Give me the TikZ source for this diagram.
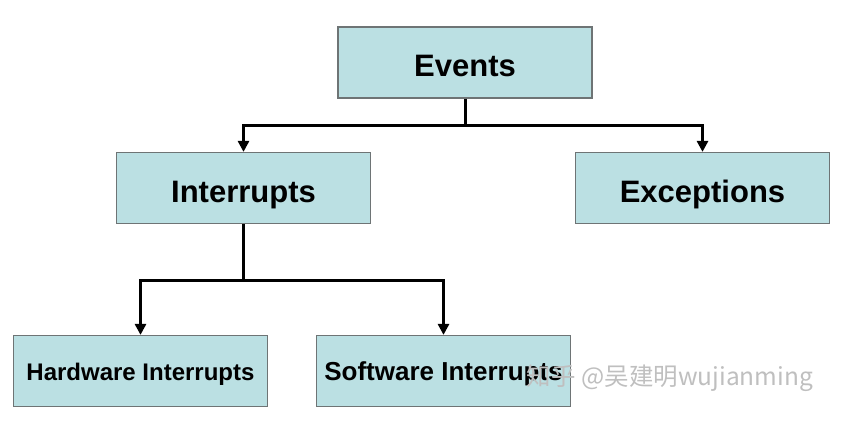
\documentclass[tikz,border=0pt]{standalone}
\usepackage{fontspec}
\setmainfont{Liberation Sans}
\newfontfamily\cjk{Noto Sans CJK SC}
\usetikzlibrary{arrows.meta}
\definecolor{boxcyan}{HTML}{BBE0E3}
\definecolor{boxline}{HTML}{6E7475}

\begin{document}
\begin{tikzpicture}[x=1pt,y=-1pt,line width=3pt,>={Triangle[length=11pt,width=11pt]},
				main node/.style = {rectangle,draw=boxline,line width=1.2pt,fill=boxcyan,inner sep=0pt,
					minimum width=254pt,minimum height=71pt,text height=31pt,text depth=2pt,
					font=\bfseries\fontsize{31}{31}\selectfont},
				leaf node/.style = {main node,text height=20pt,text depth=2pt,
					font=\bfseries\fontsize{24}{24}\selectfont}]
				
				\useasboundingbox (0,0) rectangle (853,420);
				
				\node[main node] at (465,62.5) (1) {Events};
				\node[main node] at (243.5,188) (2) {Interrupts};
				\node[main node] at (702.5,188) (3) {Exceptions};
				\node[leaf node] at (140.5,371) (4) {Hardware Interrupts};
				\node[leaf node,font=\bfseries\fontsize{26}{26}\selectfont] at (443.5,371) (5) {Software Interrupts};
				
				\coordinate (a) at (465,125);
				\coordinate (b) at (243.5,280);
				
				\draw (1) -- (a);
				\draw[->] (a) -| (2);
				\draw[->] (a) -| (3);
				\draw (2) -- (b);
				\draw[->] (b) -| (4);
				\draw[->] (b) -| (5);
				
				\node[text=black!25,font=\cjk\fontsize{24.5}{24.5}\selectfont] at (670,378) (9) {知乎 @吴建明wujianming};
				
				\end{tikzpicture}
\end{document}
